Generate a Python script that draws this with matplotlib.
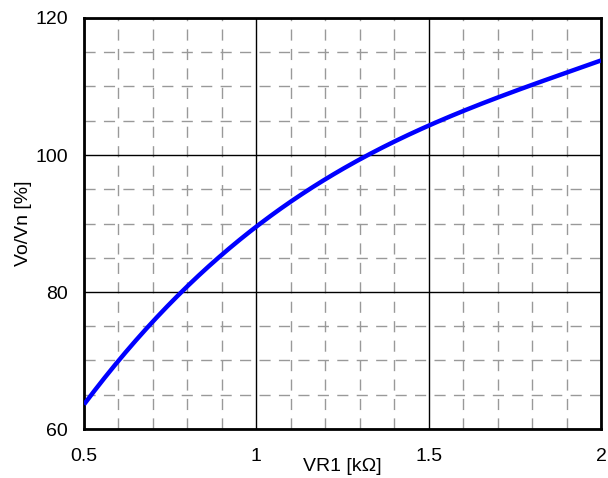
import numpy as np
import matplotlib.pyplot as plt
from matplotlib.ticker import MultipleLocator

plt.rcParams['font.family'] = ['Liberation Sans', 'DejaVu Sans']

# VR1 resistance [kOhm] vs output ratio Vo/Vn [%]
vr1 = [0.5, 0.6, 0.7, 0.8, 0.9, 1.0, 1.1, 1.2, 1.3, 1.4, 1.5, 1.6, 1.7, 1.8, 1.9, 2.0]
ratio = [63.5, 69.6, 75.9, 81.2, 85.8, 89.9, 93.0, 95.9, 98.8, 101.7, 104.4, 106.8, 108.7, 110.5, 112.0, 113.5]

xticks = [0.5, 1, 1.5, 2]
yticks = [60, 80, 100, 120]

fig = plt.figure(figsize=(6.08, 4.78), dpi=100)
ax = fig.add_axes([84/608, 1 - 429/478, 517/608, 411/478])

# smooth the measured points with a cubic fit for drawing
coef = np.polyfit(vr1, ratio, 3)
xs = np.linspace(0.5, 2.0, 200)
ax.plot(xs, np.polyval(coef, xs), color='#0000ff', lw=3.2, zorder=3, solid_capstyle='butt')

ax.set_xlim(0.5, 2)
ax.set_ylim(60, 120)
ax.set_xticks(xticks)
ax.set_xticklabels(['0.5', '1', '1.5', '2'])
ax.set_yticks(yticks)
ax.xaxis.set_minor_locator(MultipleLocator(0.1))
ax.yaxis.set_minor_locator(MultipleLocator(5))

ax.grid(True, which='major', color='black', lw=1.0, ls='-')
ax.grid(True, which='minor', color='#999999', lw=1.0, ls=(0, (8, 6)))
ax.set_axisbelow(True)

ax.tick_params(which='both', length=0)
ax.tick_params(axis='x', labelsize=14, pad=14)
ax.tick_params(axis='y', labelsize=14, pad=11.5)

for s in ax.spines.values():
    s.set_linewidth(2)
    s.set_color('black')

ax.set_xlabel('VR1 [kΩ]', fontsize=14)
ax.xaxis.set_label_coords(0.5, -0.07)
ax.set_ylabel('Vo/Vn [%]', fontsize=14)
ax.yaxis.set_label_coords(-0.1, 0.5)

plt.savefig('out.png', dpi=100)
